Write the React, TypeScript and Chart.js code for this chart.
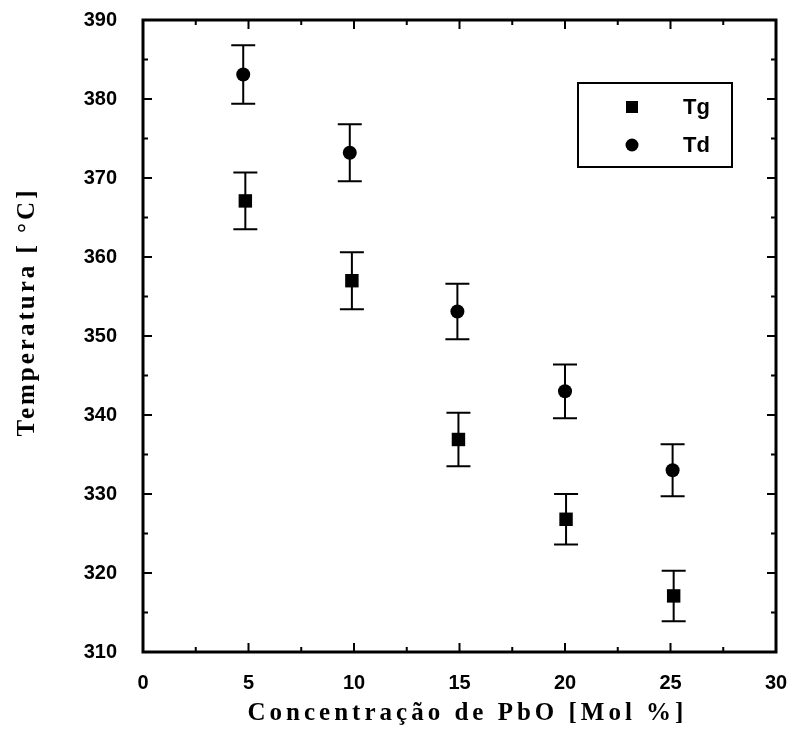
import React, { useEffect, useRef } from 'react';
import { Chart, registerables } from 'chart.js';
Chart.register(...registerables);

const tgX = [4.85, 9.9, 14.95, 20.05, 25.15];
const tgY = [367.1, 357.0, 336.9, 326.8, 317.1];
const tgErr = [3.6, 3.6, 3.4, 3.2, 3.2];
const tdX = [4.75, 9.8, 14.9, 20.0, 25.1];
const tdY = [383.1, 373.2, 353.1, 343.0, 333.0];
const tdErr = [3.7, 3.6, 3.5, 3.4, 3.3];
const seriesNames = ['Tg', 'Td'];
const xTitle = 'Concentração de PbO [Mol %]';
const yTitle = 'Temperatura [ °C]';
const xMin = 0, xMax = 30, xStep = 5, xMinor = 2.5;
const yMin = 310, yMax = 390, yStep = 10, yMinor = 5;

const errs = [tgErr, tdErr];

const customPlugin = {
  id: 'custom',
  beforeDatasetsDraw(chart: any) {
    const ctx = chart.ctx;
    const ys = chart.scales.y;
    ctx.save();
    ctx.strokeStyle = '#000';
    ctx.lineWidth = 2;
    chart.data.datasets.forEach((ds: any, i: number) => {
      const meta = chart.getDatasetMeta(i);
      meta.data.forEach((pt: any, j: number) => {
        const v = ds.data[j].y;
        const e = errs[i][j];
        const yt = ys.getPixelForValue(v + e);
        const yb = ys.getPixelForValue(v - e);
        const x = pt.x;
        ctx.beginPath();
        ctx.moveTo(x, yt); ctx.lineTo(x, yb);
        ctx.moveTo(x - 12, yt); ctx.lineTo(x + 12, yt);
        ctx.moveTo(x - 12, yb); ctx.lineTo(x + 12, yb);
        ctx.stroke();
      });
    });
    ctx.restore();
  },
  afterDraw(chart: any) {
    const ctx = chart.ctx;
    const a = chart.chartArea;
    const xs = chart.scales.x;
    const ys = chart.scales.y;
    ctx.save();
    ctx.strokeStyle = '#000';
    // ticks
    ctx.lineWidth = 2;
    ctx.beginPath();
    for (let v = xMin; v <= xMax + 1e-9; v += xMinor) {
      const x = xs.getPixelForValue(v);
      const major = Math.abs(v / xStep - Math.round(v / xStep)) < 1e-6;
      const len = major ? 9 : 5;
      ctx.moveTo(x, a.bottom); ctx.lineTo(x, a.bottom - len);
      ctx.moveTo(x, a.top); ctx.lineTo(x, a.top + len);
    }
    for (let v = yMin; v <= yMax + 1e-9; v += yMinor) {
      const y = ys.getPixelForValue(v);
      const major = Math.abs(v / yStep - Math.round(v / yStep)) < 1e-6;
      const len = major ? 9 : 5;
      ctx.moveTo(a.left, y); ctx.lineTo(a.left + len, y);
      ctx.moveTo(a.right, y); ctx.lineTo(a.right - len, y);
    }
    ctx.stroke();
    // frame
    ctx.lineWidth = 3;
    ctx.strokeRect(a.left, a.top, a.right - a.left, a.bottom - a.top);
    // titles
    ctx.fillStyle = '#000';
    ctx.font = 'bold 25px "Liberation Serif", "Times New Roman", serif';
    (ctx as any).letterSpacing = '4px';
    ctx.textAlign = 'center';
    ctx.textBaseline = 'middle';
    ctx.fillText(xTitle, (a.left + a.right) / 2 + 8, 714);
    (ctx as any).letterSpacing = '3px';
    ctx.save();
    ctx.translate(28, 312);
    ctx.rotate(-Math.PI / 2);
    ctx.fillText(yTitle, 0, 0);
    ctx.restore();
    (ctx as any).letterSpacing = '0px';
    // legend
    ctx.lineWidth = 2;
    ctx.strokeRect(578, 83, 154, 84);
    ctx.font = 'bold 22px "Liberation Sans", Arial, sans-serif';
    ctx.textAlign = 'left';
    ctx.fillRect(632 - 6, 107 - 6, 12, 12);
    ctx.fillText(seriesNames[0], 683, 108);
    ctx.beginPath();
    ctx.arc(632, 145, 6.5, 0, Math.PI * 2);
    ctx.fill();
    ctx.fillText(seriesNames[1], 683, 146);
    ctx.restore();
  },
};

const zeroPad = (s: any) => {
  s.paddingTop = 0; s.paddingBottom = 0; s.paddingLeft = 0; s.paddingRight = 0;
};

export default function App() {
  const ref = useRef<HTMLCanvasElement>(null);
  useEffect(() => {
    if (!ref.current) return;
    const tickFont = { family: '"Liberation Sans", Arial, sans-serif', size: 20, weight: 'bold' as const };
    const chart = new Chart(ref.current, {
      type: 'scatter',
      data: {
        datasets: [
          {
            label: seriesNames[0],
            data: tgX.map((x, i) => ({ x, y: tgY[i] })),
            pointStyle: 'rect',
            pointRadius: 9.5,
            backgroundColor: '#000',
            borderColor: '#000',
            borderWidth: 0,
          },
          {
            label: seriesNames[1],
            data: tdX.map((x, i) => ({ x, y: tdY[i] })),
            pointStyle: 'circle',
            pointRadius: 7,
            backgroundColor: '#000',
            borderColor: '#000',
            borderWidth: 0,
          },
        ],
      },
      options: {
        responsive: false,
        animation: false,
        layout: { padding: { left: 0, top: 20, right: 17, bottom: 0 } },
        plugins: { legend: { display: false }, tooltip: { enabled: false } },
        scales: {
          x: {
            type: 'linear',
            min: xMin,
            max: xMax,
            grid: { display: false },
            border: { display: false },
            afterFit: (s: any) => { s.height = 81; zeroPad(s); },
            ticks: { stepSize: xStep, color: '#000', font: tickFont, padding: 11, maxRotation: 0 },
          },
          y: {
            type: 'linear',
            min: yMin,
            max: yMax,
            grid: { display: false },
            border: { display: false },
            afterFit: (s: any) => { s.width = 143; zeroPad(s); },
            ticks: { stepSize: yStep, color: '#000', font: tickFont, padding: 18 },
          },
        },
      },
      plugins: [customPlugin],
    });
    return () => chart.destroy();
  }, []);
  return (
    <div style={{ position: 'absolute', left: 0, top: 0, width: 793, height: 733, background: '#fff' }}>
      <canvas ref={ref} width={793} height={733} />
    </div>
  );
}
